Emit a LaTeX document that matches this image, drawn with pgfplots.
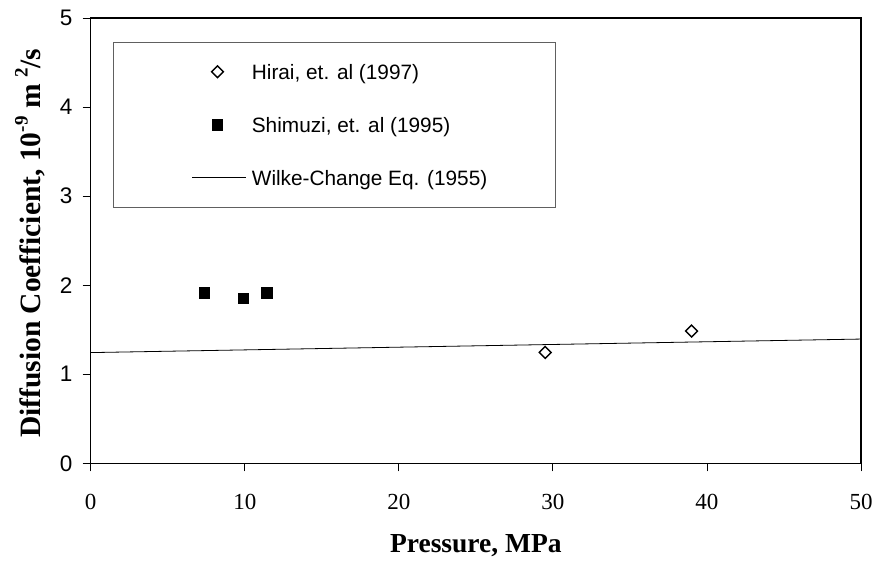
\documentclass[border=0pt]{standalone}
\usepackage{fontspec}
\setmainfont{Liberation Serif}
\newfontfamily\arialfont{Liberation Sans}
\usepackage{pgfplots}
\pgfplotsset{compat=1.18}
\pgfplotsset{
  markleg/.style={legend image code/.code={\path (0pt,0pt) (131.7pt,0pt); \draw[##1] plot coordinates {(103.4pt,0pt)};}},
  lineleg/.style={legend image code/.code={\path (0pt,0pt); \draw[##1] (78.4pt,0pt) -- (131.7pt,0pt);}},
}
\begin{document}
\begin{tikzpicture}
\begin{axis}[
  name=ax,
  scale only axis, width=770.3pt, height=445.3pt,
  xmin=0, xmax=50, ymin=0, ymax=5,
  xtick={0,10,...,50}, ytick={0,1,...,5},
  axis line style={line width=1.3pt},
  tick style={black, line width=0.8pt},
  tick align=outside, major tick length=8pt,
  xtick pos=bottom, ytick pos=left,
  /pgf/number format/assume math mode=true,
  xticklabel style={font=\fontsize{23}{23}\selectfont, anchor=base, inner sep=0pt, yshift=-38.5pt},
  yticklabel style={font=\arialfont\fontsize{22.5}{22.5}\selectfont, anchor=east, inner sep=0pt, xshift=-10.2pt},
  xlabel={\textbf{Pressure, MPa}},
  xlabel style={font=\fontsize{27.5}{27.5}\selectfont, inner sep=0pt, at={(axis description cs:0.5,-0.2014)}, anchor=base},
  ylabel={\textbf{Diffusion Coefficient, 10\raisebox{0.42em}{\fontsize{19}{19}\selectfont -9}\hspace{8pt}m\hspace{6pt}\raisebox{0.42em}{\fontsize{19}{19}\selectfont 2}/s}},
  ylabel style={font=\fontsize{29.5}{29.5}\selectfont, inner sep=0pt, at={(axis description cs:-0.0658,0.494)}, anchor=base},
  legend style={at={(rel axis cs:0.0293,0.9468)}, anchor=north west, draw=gray!75!black, line width=0.8pt,
    inner xsep=0pt, inner ysep=3.15pt,
    font=\arialfont\fontsize{20.8}{20.8}\selectfont, row sep=0pt, column sep=5.7pt,
    nodes={inner sep=0pt, text height=33.95pt, text depth=19.05pt}},
  legend cell align=left,
]
\addplot[only marks, black, mark=square, mark size=4.2pt, mark options={rotate=45, line width=1.4pt, fill=white}, markleg]
  coordinates {(29.5,1.245) (39.0,1.485)};
\addlegendentry{\makebox[304pt][l]{Hirai, et. al (1997)}}
\addplot[only marks, black, mark=square*, mark size=5.2pt, mark options={line width=0.8pt}, markleg]
  coordinates {(7.38,1.915) (9.91,1.85) (11.43,1.915)};
\addlegendentry{\makebox[304pt][l]{Shimuzi, et. al (1995)}}
\addplot[black, line width=0.8pt, no marks, lineleg]
  coordinates {(0,1.243) (50,1.395)};
\addlegendentry{\makebox[304pt][l]{Wilke-Change Eq. (1955)}}
\end{axis}
\pgfresetboundingbox
\path ([shift={(-90.7pt,-99.7pt)}]ax.south west) rectangle ([shift={(16pt,18pt)}]ax.north east);
\end{tikzpicture}
\end{document}
